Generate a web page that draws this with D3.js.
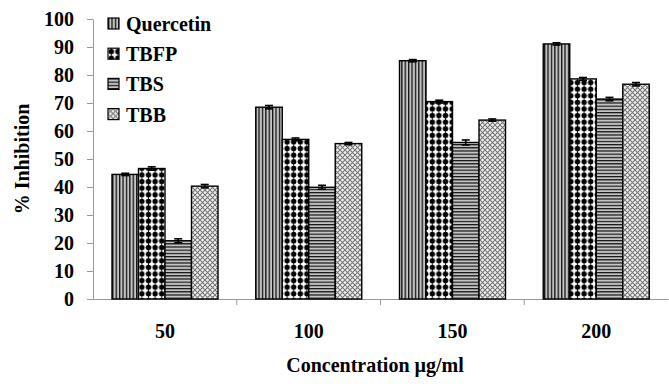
<!DOCTYPE html>
<html>
<head>
  <style>
    body { margin: 0; background: #fff; }
    text { font-family: "Liberation Serif", "Times New Roman", serif; font-weight: bold; fill: #000; }
  </style>
</head>
<body>
  <svg id="chart" width="669" height="390"></svg>
  <script src="https://d3js.org/d3.v7.min.js"></script>
  <script>
    // chart data
    const categories = ["50", "100", "150", "200"];
    const seriesNames = ["Quercetin", "TBFP", "TBS", "TBB"];
    const quercetin = [44.5, 68.5, 85.1, 91.1];
    const tbfp = [46.6, 57.0, 70.5, 78.6];
    const tbs = [20.8, 39.9, 55.9, 71.4];
    const tbb = [40.3, 55.5, 63.9, 76.7];
    const errors = [
      [0.4, 0.6, 0.4, 0.4],
      [0.6, 0.5, 0.5, 0.5],
      [0.7, 0.7, 0.9, 0.6],
      [0.6, 0.4, 0.4, 0.6]
    ];
    const yTicks = [0, 10, 20, 30, 40, 50, 60, 70, 80, 90, 100];

    const values = [quercetin, tbfp, tbs, tbb];
    const data = [];
    categories.forEach((c, i) => {
      seriesNames.forEach((s, j) => {
        data.push({cat: c, series: s, value: values[j][i], err: errors[j][i]});
      });
    });

    const svg = d3.select("#chart");
    const defs = svg.append("defs");

    // fill patterns
    const pVert = defs.append("pattern").attr("id", "p0")
      .attr("patternUnits", "userSpaceOnUse").attr("width", 3.4).attr("height", 4);
    pVert.append("rect").attr("width", 3.4).attr("height", 4).attr("fill", "#c4c4c4");
    pVert.append("rect").attr("width", 1.3).attr("height", 4).attr("fill", "#111");

    const pDots = defs.append("pattern").attr("id", "p1")
      .attr("patternUnits", "userSpaceOnUse").attr("width", 6.6).attr("height", 6.6);
    pDots.append("rect").attr("width", 6.6).attr("height", 6.6).attr("fill", "#fff");
    pDots.append("circle").attr("cx", 3.3).attr("cy", 3.3).attr("r", 2.7).attr("fill", "#000");
    pDots.append("rect").attr("x", 2.9).attr("width", 0.8).attr("height", 6.6).attr("fill", "#000");

    const pHorz = defs.append("pattern").attr("id", "p2")
      .attr("patternUnits", "userSpaceOnUse").attr("width", 4).attr("height", 3.2);
    pHorz.append("rect").attr("width", 4).attr("height", 3.2).attr("fill", "#c4c4c4");
    pHorz.append("rect").attr("width", 4).attr("height", 1.2).attr("fill", "#111");

    const pCross = defs.append("pattern").attr("id", "p3")
      .attr("patternUnits", "userSpaceOnUse").attr("width", 5).attr("height", 5);
    pCross.append("rect").attr("width", 5).attr("height", 5).attr("fill", "#f2f2f2");
    pCross.append("path").attr("d", "M0,0 L5,5 M5,0 L0,5").attr("stroke", "#777").attr("stroke-width", 1.1);

    const fillFor = d3.scaleOrdinal().domain(seriesNames).range(["url(#p0)", "url(#p1)", "url(#p2)", "url(#p3)"]);

    // scales
    const x0 = d3.scaleBand().domain(categories).range([93, 668]).padding(0);
    const x1 = d3.scaleBand().domain(seriesNames).range([19, 125]).padding(0);
    const y = d3.scaleLinear().domain([0, 100]).range([299, 19]);

    // y axis
    const yAxis = svg.append("g").attr("transform", "translate(93,0)")
      .call(d3.axisLeft(y).tickValues(yTicks).tickSize(6).tickPadding(13).tickSizeOuter(0));
    yAxis.select(".domain").attr("stroke", "#999");
    yAxis.selectAll(".tick line").attr("stroke", "#999");
    yAxis.selectAll(".tick text").style("font-size", "20px").attr("font-family", null);

    // x axis
    const xAxis = svg.append("g").attr("transform", "translate(0,299)")
      .call(d3.axisBottom(x0).tickSize(0).tickSizeOuter(0));
    xAxis.select(".domain").attr("stroke", "#999");
    xAxis.selectAll(".tick text").style("font-size", "20px").attr("font-family", null)
      .attr("y", 39).attr("dy", 0);
    xAxis.selectAll(".boundary")
      .data(categories.slice(1))
      .enter().append("line")
      .attr("class", "boundary")
      .attr("x1", d => x0(d)).attr("x2", d => x0(d))
      .attr("y1", 0).attr("y2", 6)
      .attr("stroke", "#999");

    // bars
    const bars = svg.append("g");
    bars.selectAll("rect")
      .data(data)
      .enter().append("rect")
      .attr("x", d => x0(d.cat) + x1(d.series))
      .attr("y", d => y(d.value))
      .attr("width", x1.bandwidth())
      .attr("height", d => y(0) - y(d.value))
      .attr("fill", d => fillFor(d.series))
      .attr("stroke", "#000")
      .attr("stroke-width", 1.4);

    // error bars
    const errG = svg.append("g").attr("stroke", "#000").attr("stroke-width", 1.6);
    data.forEach(d => {
      const cx = x0(d.cat) + x1(d.series) + x1.bandwidth() / 2;
      errG.append("line").attr("x1", cx).attr("x2", cx)
        .attr("y1", y(d.value - d.err)).attr("y2", y(d.value + d.err));
      errG.append("line").attr("x1", cx - 4).attr("x2", cx + 4)
        .attr("y1", y(d.value + d.err)).attr("y2", y(d.value + d.err));
      errG.append("line").attr("x1", cx - 4).attr("x2", cx + 4)
        .attr("y1", y(d.value - d.err)).attr("y2", y(d.value - d.err));
    });

    // legend
    const legend = svg.append("g").attr("transform", "translate(108,18)");
    const item = legend.selectAll("g")
      .data(seriesNames)
      .enter().append("g")
      .attr("transform", (d, i) => `translate(0,${i * 30.2})`);
    item.append("rect")
      .attr("width", 11).attr("height", 11)
      .attr("fill", d => fillFor(d))
      .attr("stroke", "#000").attr("stroke-width", 1.2);
    item.append("text")
      .attr("x", 18).attr("y", 6).attr("dy", "0.35em")
      .style("font-size", "20px")
      .text(d => d);

    // axis titles
    svg.append("text")
      .attr("transform", "translate(29,159) rotate(-90)")
      .attr("text-anchor", "middle")
      .style("font-size", "20px")
      .text("% Inhibition");

    svg.append("text")
      .attr("x", 375).attr("y", 372)
      .attr("text-anchor", "middle")
      .style("font-size", "20px")
      .text("Concentration µg/ml");
  </script>
</body>
</html>
